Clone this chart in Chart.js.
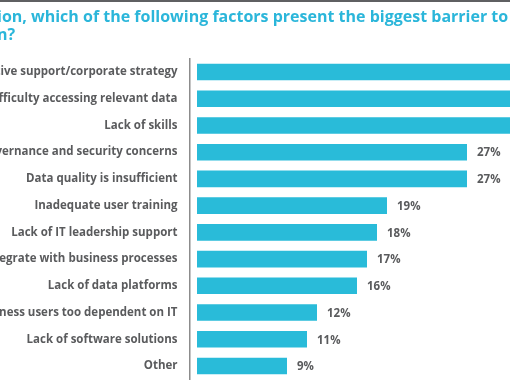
<!DOCTYPE html>
<html><head><meta charset="utf-8">
<script src="https://cdn.jsdelivr.net/npm/chart.js@4"></script>
<style>
html,body{margin:0;padding:0;background:#fff;width:510px;height:382px;overflow:hidden;position:relative}
#topline{position:absolute;left:0;top:0;width:510px;height:2px;background:#5f6062;z-index:2}
#wrap{position:absolute;left:-3px;top:0;width:713px;height:382px}
</style></head><body>
<div id="topline"></div>
<div id="wrap"><canvas id="c" width="713" height="382"></canvas></div>
<script>
const titleLines = [
  "ion, which of the following factors present the biggest barrier to",
  "n?"
];
const categories = [
  "Lack of executive support/corporate strategy",
  "Difficulty accessing relevant data",
  "Lack of skills",
  "Data governance and security concerns",
  "Data quality is insufficient",
  "Inadequate user training",
  "Lack of IT leadership support",
  "Inability to integrate with business processes",
  "Lack of data platforms",
  "Business users too dependent on IT",
  "Lack of software solutions",
  "Other"
];
const values = [37, 34, 32, 27, 27, 19, 18, 17, 16, 12, 11, 9];
const valueLabels = values.map(v => v + "%");

const barColor = "#29bbd9";
const textGray = "#5a5b5d";
const fontFam = "'Open Sans', Lato, sans-serif";

const valueLabelPlugin = {
  id: "valueLabels",
  afterDatasetsDraw(chart) {
    const ctx = chart.ctx;
    const meta = chart.getDatasetMeta(0);
    ctx.save();
    ctx.font = "bold 11.5px " + fontFam;
    ctx.fillStyle = textGray;
    ctx.textAlign = "left";
    ctx.textBaseline = "middle";
    meta.data.forEach((bar, i) => {
      ctx.fillText(valueLabels[i], bar.x + 10, bar.y + 1);
    });
    ctx.restore();
  }
};

new Chart(document.getElementById("c"), {
  type: "bar",
  data: {
    labels: categories,
    datasets: [{
      data: values,
      backgroundColor: barColor,
      borderWidth: 0,
      barPercentage: 0.62,
      categoryPercentage: 1.0
    }]
  },
  options: {
    indexAxis: "y",
    responsive: false,
    animation: false,
    devicePixelRatio: 1,
    layout: { padding: { left: 0, right: 0, top: 0, bottom: 2.6 } },
    plugins: {
      legend: { display: false },
      tooltip: { enabled: false },
      title: {
        display: true,
        text: titleLines,
        align: "start",
        color: "#2bb6da",
        font: { family: fontFam, size: 16, weight: "bold", lineHeight: 1.1 },
        padding: { top: 9, bottom: 14.4 }
      }
    },
    scales: {
      x: {
        display: false,
        min: -0.75,
        max: 51.3
      },
      y: {
        afterFit(scale) {
          scale.width = 192.5;
          scale.paddingTop = 0;
          scale.paddingBottom = 0;
        },
        grid: { display: false, drawTicks: false },
        border: { display: true, color: "#8c8c8c", width: 1.5 },
        ticks: {
          padding: 12,
          color: textGray,
          font: { family: fontFam, size: 11.5, weight: "bold" }
        }
      }
    }
  },
  plugins: [valueLabelPlugin]
});
</script>
</body></html>
